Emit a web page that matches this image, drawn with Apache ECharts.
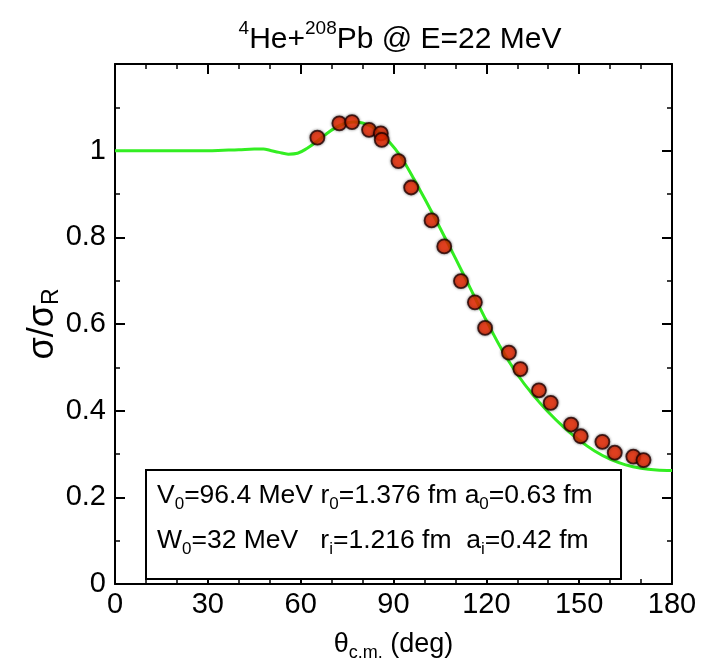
<!DOCTYPE html>
<html>
<head>
<meta charset="utf-8">
<script src="https://cdn.jsdelivr.net/npm/echarts@6/dist/echarts.min.js"></script>
<style>html,body{margin:0;padding:0;background:#fff}#c{width:704px;height:660px}</style>
</head>
<body>
<div id="c"></div>
<script>
// Experimental data (theta c.m. in deg, sigma/sigma_R)
const dataTheta = [65.4, 72.5, 76.6, 82.1, 85.9, 86.2, 91.6, 95.7, 102.3, 106.4, 111.8, 116.3, 119.6, 127.3, 131.0, 137.0, 140.8, 147.4, 150.5, 157.5, 161.5, 167.5, 170.8];
const dataRatio = [1.030, 1.063, 1.066, 1.048, 1.040, 1.025, 0.976, 0.915, 0.839, 0.779, 0.699, 0.650, 0.591, 0.534, 0.496, 0.447, 0.418, 0.368, 0.341, 0.328, 0.303, 0.294, 0.286];
// Optical model calculation
const curveTheta = [0, 5, 10, 15, 20, 25, 30, 35, 40, 45, 48, 50, 53, 56, 59, 62, 65, 68, 71, 74, 77, 80, 83, 86, 89, 92, 95, 100, 105, 110, 115, 120, 125, 130, 135, 140, 145, 150, 155, 160, 165, 170, 175, 180];
const curveRatio = [1.000, 1.000, 1.000, 1.000, 1.000, 1.000, 1.000, 1.001, 1.002, 1.004, 1.004, 1.001, 0.996, 0.992, 0.994, 1.005, 1.020, 1.037, 1.052, 1.062, 1.066, 1.064, 1.055, 1.038, 1.017, 0.990, 0.955, 0.890, 0.822, 0.752, 0.680, 0.608, 0.541, 0.484, 0.437, 0.397, 0.362, 0.332, 0.307, 0.288, 0.275, 0.267, 0.263, 0.262];
const xTicks = [0, 30, 60, 90, 120, 150, 180];
const yTicks = [0, 0.2, 0.4, 0.6, 0.8, 1];

const FONT = 'Liberation Sans';
const chart = echarts.init(document.getElementById('c'));
const axisCommon = {
  type: 'value',
  axisLine: { show: true, onZero: false, lineStyle: { color: '#000', width: 2 } },
  axisTick: { show: true, inside: true, length: 10, lineStyle: { color: '#000', width: 2 } },
  minorTick: { show: true, length: 5, lineStyle: { color: '#000', width: 1.5 } },
  splitLine: { show: false }
};
chart.setOption({
  animation: false,
  backgroundColor: '#fff',
  title: {
    text: '{sup|4}{n|He+}{sup|208}{n|Pb @ E=22 MeV}',
    left: 395, top: 14, textAlign: 'center',
    textStyle: {
      fontWeight: 'normal',
      rich: {
        n: { fontFamily: FONT, fontSize: 30, fontWeight: 'normal', color: '#000', lineHeight: 42 },
        sup: { fontFamily: FONT, fontSize: 19, fontWeight: 'normal', color: '#000', lineHeight: 19, verticalAlign: 'top' }
      }
    }
  },
  grid: { left: 115, right: 32, top: 64, bottom: 76, containLabel: false, outerBoundsMode: 'none' },
  xAxis: [
    Object.assign({}, axisCommon, {
      min: 0, max: 180, interval: 30, position: 'bottom',
      minorTick: Object.assign({}, axisCommon.minorTick, { splitNumber: 3 }),
      axisLabel: { fontFamily: FONT, fontSize: 29, color: '#000', margin: 6,
        formatter: v => xTicks.includes(v) ? String(v) : '' },
      name: '{n|θ}{s|c.m.}{n| (deg)}', nameLocation: 'middle', nameGap: 44,
      nameTextStyle: { rich: {
        n: { fontFamily: FONT, fontSize: 27, color: '#000', lineHeight: 34 },
        s: { fontFamily: FONT, fontSize: 18, color: '#000', lineHeight: 16, verticalAlign: 'bottom' }
      } }
    }),
    Object.assign({}, axisCommon, {
      min: 0, max: 180, interval: 30, position: 'top',
      minorTick: Object.assign({}, axisCommon.minorTick, { splitNumber: 3 }),
      axisLabel: { show: false }
    })
  ],
  yAxis: [
    Object.assign({}, axisCommon, {
      min: 0, max: 1.2, interval: 0.2, position: 'left',
      minorTick: Object.assign({}, axisCommon.minorTick, { splitNumber: 2 }),
      axisLabel: { fontFamily: FONT, fontSize: 29, color: '#000', margin: 9,
        formatter: v => { const t = yTicks.find(y => Math.abs(y - v) < 1e-6); return t === undefined ? '' : String(t); } },
      name: '{n|σ/σ}{s|R}', nameLocation: 'middle', nameGap: 52, nameRotate: 90,
      nameMoveOverlap: false,
      nameTextStyle: { rich: {
        n: { fontFamily: FONT, fontSize: 36, color: '#000', lineHeight: 40 },
        s: { fontFamily: FONT, fontSize: 23, color: '#000', lineHeight: 20, verticalAlign: 'bottom' }
      } }
    }),
    Object.assign({}, axisCommon, {
      min: 0, max: 1.2, interval: 0.2, position: 'right',
      minorTick: Object.assign({}, axisCommon.minorTick, { splitNumber: 2 }),
      axisLabel: { show: false }
    })
  ],
  series: [
    {
      type: 'line', xAxisIndex: 0, yAxisIndex: 0,
      data: curveTheta.map((t, i) => [t, curveRatio[i]]),
      smooth: 0.35, showSymbol: false,
      lineStyle: { color: '#33ee22', width: 3 }, z: 2
    },
    {
      type: 'scatter', xAxisIndex: 0, yAxisIndex: 0,
      data: dataTheta.map((t, i) => [t, dataRatio[i]]),
      symbol: 'circle', symbolSize: 14,
      itemStyle: { color: '#f02800', borderColor: '#220000', borderWidth: 1.8, shadowBlur: 3, shadowColor: 'rgba(0,0,0,0.5)' },
      z: 3
    }
  ],
  graphic: [
    { type: 'rect', left: 145, top: 469, shape: { width: 475, height: 109 },
      style: { fill: '#fff', stroke: '#000', lineWidth: 2 }, z: 10 },
    { type: 'text', left: 157, top: 482, z: 11,
      style: { text: '{n|V}{s|0}{n|=96.4 MeV r}{s|0}{n|=1.376 fm a}{s|0}{n|=0.63 fm}',
        rich: {
          n: { fontFamily: FONT, fontSize: 26.5, fill: '#000', lineHeight: 34 },
          s: { fontFamily: FONT, fontSize: 17, fill: '#000', lineHeight: 14, verticalAlign: 'bottom' }
        } } },
    { type: 'text', left: 157, top: 527, z: 11,
      style: { text: '{n|W}{s|0}{n|=32 MeV   r}{s|i}{n|=1.216 fm  a}{s|i}{n|=0.42 fm}',
        rich: {
          n: { fontFamily: FONT, fontSize: 26.5, fill: '#000', lineHeight: 34 },
          s: { fontFamily: FONT, fontSize: 17, fill: '#000', lineHeight: 14, verticalAlign: 'bottom' }
        } } }
  ]
});
</script>
</body>
</html>
